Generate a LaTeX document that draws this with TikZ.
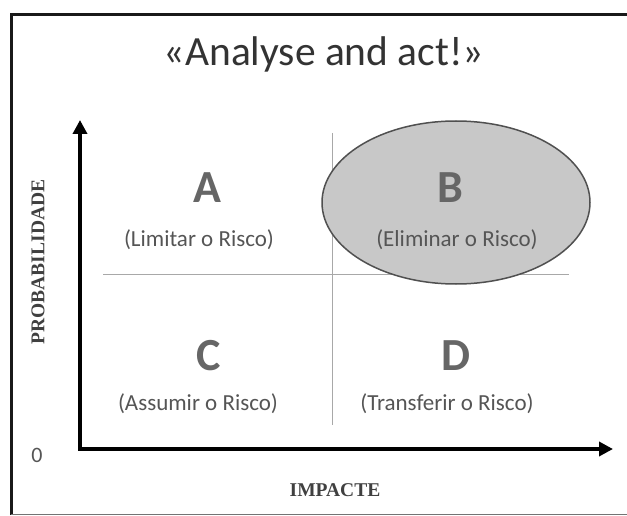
\documentclass[tikz,border=0pt]{standalone}
\usepackage{fontspec}
\setmainfont{Carlito}
\newfontfamily\timesfont{Liberation Serif}
\usetikzlibrary{arrows.meta,shapes.geometric}
\definecolor{txtgray}{HTML}{555555}
\definecolor{letgray}{HTML}{666666}
\definecolor{ellfill}{HTML}{C8C8C8}
\definecolor{ellline}{HTML}{505050}
\definecolor{divgray}{HTML}{A8A8A8}
\tikzset{
  bigletter/.style={text=letgray, font=\fontsize{46}{46}\selectfont\bfseries, inner sep=0pt},
  action/.style={text=txtgray, font=\fontsize{23}{23}\selectfont, inner sep=0pt},
  axislabel/.style={text=black!75, font=\timesfont\fontsize{19.5}{19.5}\selectfont\bfseries, inner sep=0pt},
  axisline/.style={line width=4pt, line join=miter, {Triangle[width=14pt,length=14pt]}-{Triangle[width=14pt,length=14pt]}},
  divider/.style={divgray, line width=1pt},
}
\begin{document}
\begin{tikzpicture}[x=1pt,y=-1pt]
\useasboundingbox (0,0) rectangle (627,516);
% frame
\draw[line width=3pt, black!90] (11,515) -- (11,15) -- (628,15);
\draw[line width=1pt, black!55] (11,514.5) -- (628,514.5);
% title
\node[text=black!80, font=\fontsize{41.5}{41.5}\selectfont, inner sep=0pt, anchor=base] (title) at (324,66) {«Analyse and act!»};
% dividers
\coordinate (vtop) at (332,133);
\coordinate (vbot) at (332,425);
\coordinate (hleft) at (103,274);
\coordinate (hright) at (569,274);
\draw[divider] (vtop) -- (vbot);
\draw[divider] (hleft) -- (hright);
% ellipse
\node[ellipse, draw=ellline, fill=ellfill, line width=1.5pt, minimum width=268pt, minimum height=163pt, inner sep=0pt] (ell) at (456,202.5) {};
% axes
\coordinate (O) at (80,449);
\coordinate (ytip) at (80,120);
\coordinate (xtip) at (613,449);
\draw[axisline] (ytip) -- (O) -- (xtip);
% quadrant texts
\node[bigletter] (A) at (207,188) {A};
\node[action] (Atxt) at (199,240) {(Limitar o Risco)};
\node[bigletter] (B) at (450,188) {B};
\node[action] (Btxt) at (457,240) {(Eliminar o Risco)};
\node[bigletter] (C) at (209,356) {C};
\node[action] (Ctxt) at (198,404) {(Assumir o Risco)};
\node[bigletter] (D) at (456,356) {D};
\node[action] (Dtxt) at (447,404) {(Transferir o Risco)};
% axis labels
\node[axislabel, rotate=90] (prob) at (38,262) {PROBABILIDADE};
\node[axislabel] (imp) at (335,490) {IMPACTE};
\node[text=txtgray, font=\fontsize{22}{22}\selectfont, inner sep=0pt] (zero) at (37,455) {0};
\end{tikzpicture}
\end{document}
